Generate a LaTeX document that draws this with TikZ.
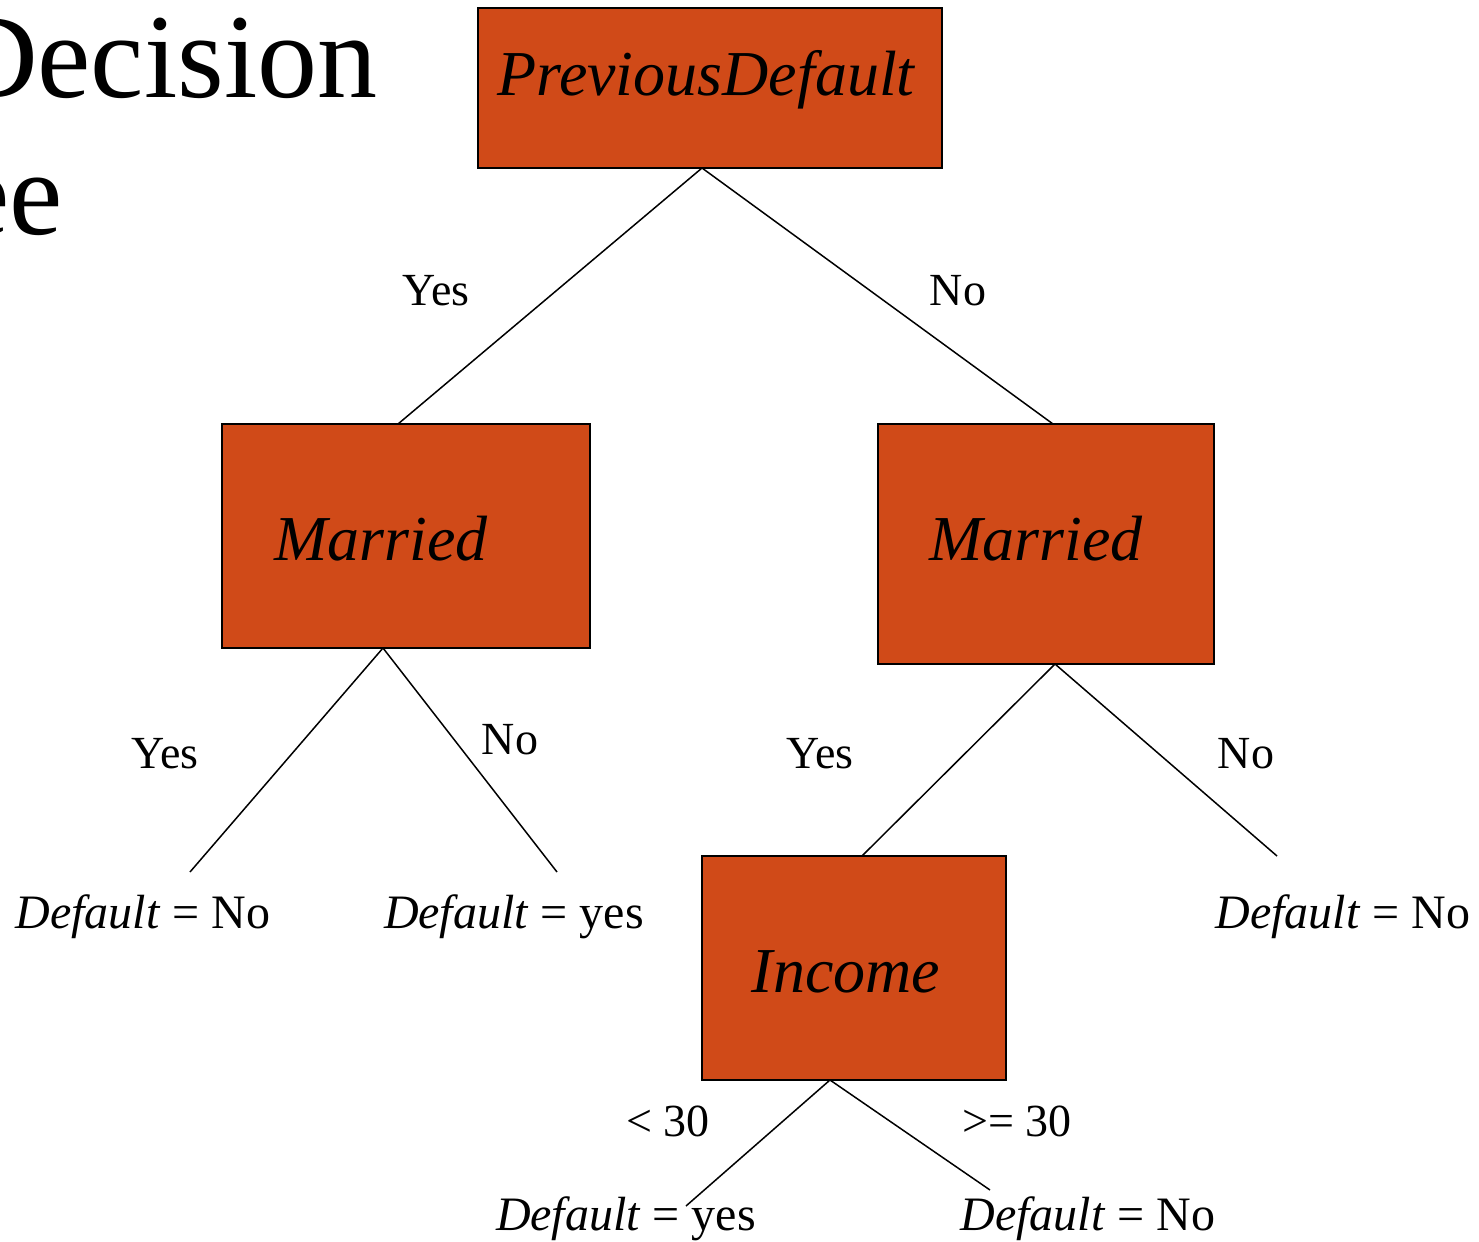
\documentclass[tikz,border=0pt]{standalone}
\usepackage{fontspec}
\setmainfont{Liberation Serif}
\usetikzlibrary{calc}
\definecolor{nodefill}{RGB}{208,74,24}
\begin{document}
\begin{tikzpicture}[x=0.5pt,y=-0.5pt,
  boxnode/.style={draw=black, line width=1pt, fill=nodefill, inner sep=0pt, outer sep=0pt, anchor=north west},
  boxtext/.style={inner sep=0pt, anchor=base, font=\fontsize{32}{38}\selectfont\itshape},
  branch/.style={inner sep=0pt, anchor=base, font=\fontsize{23}{28}\selectfont},
  leaf/.style={inner sep=0pt, anchor=base, font=\fontsize{24}{29}\selectfont},
  title/.style={inner sep=0pt, anchor=base east, font=\fontsize{60}{72}\selectfont},
  edge/.style={draw=black, line width=0.75pt}]
\useasboundingbox (0,0) rectangle (1479,1242);

% slide heading
\node[title] (head1) at (378,97) {Decision};
\node[title] (head2) at (63,234) {Tree};

% decision nodes
\node[boxnode, minimum width=232pt, minimum height=80pt] (root) at (478,8) {};
\node[boxnode, minimum width=184pt, minimum height=112pt] (marl) at (222,424) {};
\node[boxnode, minimum width=168pt, minimum height=120pt] (marr) at (878,424) {};
\node[boxnode, minimum width=152pt, minimum height=112pt] (inc) at (702,856) {};

\node[boxtext] (rootlbl) at (706,95) {PreviousDefault};
\node[boxtext] (marllbl) at (381,560) {Married};
\node[boxtext] (marrlbl) at (1036,560) {Married};
\node[boxtext] (inclbl) at (846,992) {Income};

% loose ends of the leaf branches
\coordinate (ll1) at (190,872);
\coordinate (ll2) at (557,872);
\coordinate (lr2) at (1277,856);
\coordinate (lb1) at (686,1206);
\coordinate (lb2) at (990,1190);

% branches
\draw[edge] ($(root.south)+(-8,0)$) -- ($(marl.north)+(-8,0)$);
\draw[edge] ($(root.south)+(-8,0)$) -- ($(marr.north)+(7,0)$);
\draw[edge] ($(marl.south)+(-23,0)$) -- (ll1);
\draw[edge] ($(marl.south)+(-23,0)$) -- (ll2);
\draw[edge] ($(marr.south)+(9,0)$) -- ($(inc.north)+(8,0)$);
\draw[edge] ($(marr.south)+(9,0)$) -- (lr2);
\draw[edge] ($(inc.south)+(-24,0)$) -- (lb1);
\draw[edge] ($(inc.south)+(-24,0)$) -- (lb2);

% branch labels
\node[branch] (b1) at (436,305) {Yes};
\node[branch] (b2) at (958,305) {No};
\node[branch] (b3) at (165,768) {Yes};
\node[branch] (b4) at (510,754) {No};
\node[branch] (b5) at (820,768) {Yes};
\node[branch] (b6) at (1246,768) {No};
\node[branch] (b7) at (668,1136) {< 30};
\node[branch] (b8) at (1017,1136) {>= 30};

% outcomes
\node[leaf] (out1) at (143,928) {\textit{Default} = No};
\node[leaf] (out2) at (514,928) {\textit{Default} = yes};
\node[leaf] (out3) at (1343,928) {\textit{Default} = No};
\node[leaf] (out4) at (626,1230) {\textit{Default} = yes};
\node[leaf] (out5) at (1088,1230) {\textit{Default} = No};
\end{tikzpicture}
\end{document}
